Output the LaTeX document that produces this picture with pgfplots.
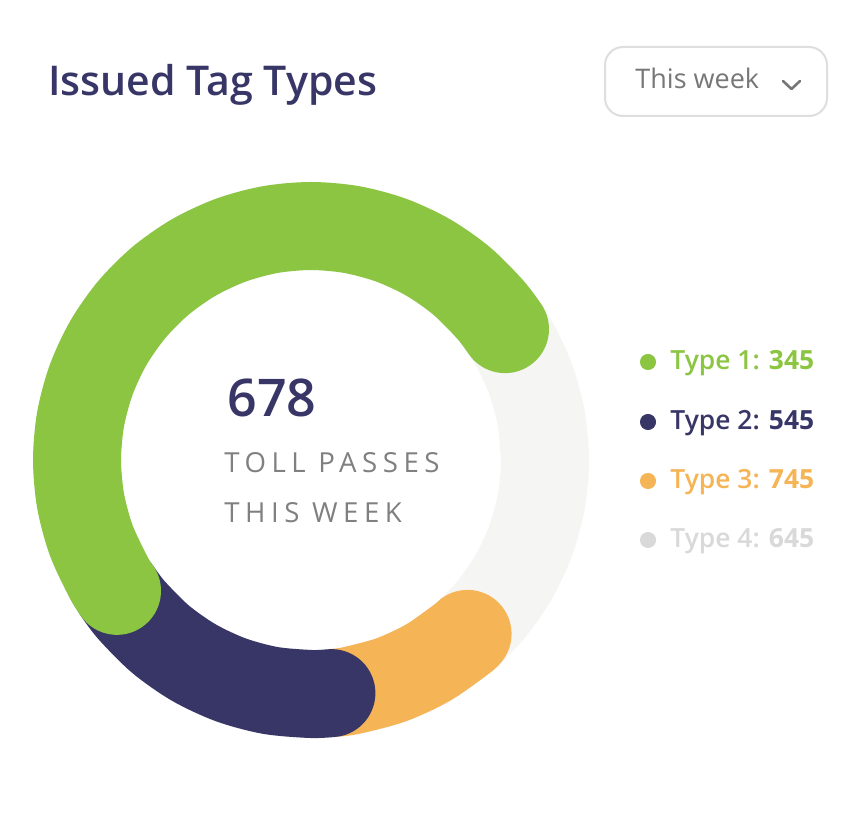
\documentclass[border=0pt]{standalone}
\usepackage{pgfplots}
\pgfplotsset{compat=1.18}
\usepackage{fontspec}
\setmainfont{Open Sans}
\newfontfamily\semib{Open Sans Semibold}
\newfontfamily\boldf{Open Sans Bold}
\newfontfamily\spaced[LetterSpace=20]{Open Sans}
\definecolor{cgreen}{HTML}{8BC541}
\definecolor{cnavy}{HTML}{383667}
\definecolor{corange}{HTML}{F5B455}
\definecolor{cring}{HTML}{F5F6F3}
\definecolor{cgray4}{HTML}{D9D9D9}
\definecolor{cbtn}{HTML}{777777}
\definecolor{cbord}{HTML}{DEDEDE}
\definecolor{ctext}{HTML}{808080}
\begin{document}
\begin{tikzpicture}
\fill[white] (0,0) rectangle (433.5pt,412.5pt);
\begin{axis}[
  scale only axis, width=433.5pt, height=412.5pt,
  xmin=-311, xmax=556, ymin=-365, ymax=460,
  hide axis, clip=false,
]
% background ring
\addplot[data cs=polar, smooth, color=cring, line width=44pt] coordinates {
(0,234) (10,234) (20,234) (30,234) (40,234) (50,234) (60,234) (70,234) (80,234) (90,234)
(100,234) (110,234) (120,234) (130,234) (140,234) (150,234) (160,234) (170,234) (180,234)
(190,234) (200,234) (210,234) (220,234) (230,234) (240,234) (250,234) (260,234) (270,234)
(280,234) (290,234) (300,234) (310,234) (320,234) (330,234) (340,234) (350,234) (360,234) (370,234)};
% Type 3 (orange)
\addplot[data cs=polar, smooth, color=corange, line width=44pt, line cap=round] coordinates {
(276,234) (280,234) (290,234) (300,234) (310,234) (312,234)};
% Type 2 (navy)
\addplot[data cs=polar, smooth, color=cnavy, line width=44pt, line cap=round] coordinates {
(214,234) (220,234) (230,234) (240,234) (250,234) (260,234) (270,234) (275,234)};
% Type 1 (green)
\addplot[data cs=polar, smooth, color=cgreen, line width=44pt, line cap=round] coordinates {
(34,234) (40,234) (50,234) (60,234) (70,234) (80,234) (90,234) (100,234) (110,234)
(120,234) (130,234) (140,234) (150,234) (160,234) (170,234) (180,234) (190,234)
(200,234) (210,234) (214,234)};
% legend dots
\addplot[only marks, mark=*, mark size=3.8pt, color=cgreen] coordinates {(337,98)};
\addplot[only marks, mark=*, mark size=3.8pt, color=cnavy] coordinates {(337,38)};
\addplot[only marks, mark=*, mark size=3.8pt, color=corange] coordinates {(337,-21)};
\addplot[only marks, mark=*, mark size=3.8pt, color=cgray4] coordinates {(337,-80)};
% legend texts
\node[anchor=base west, inner sep=0pt, text=cgreen, font=\fontsize{13.2pt}{15pt}\semib] at (axis cs:359,90) {Type 1: {\boldf 345}};
\node[anchor=base west, inner sep=0pt, text=cnavy, font=\fontsize{13.2pt}{15pt}\semib] at (axis cs:359,30) {Type 2: {\boldf 545}};
\node[anchor=base west, inner sep=0pt, text=corange, font=\fontsize{13.2pt}{15pt}\semib] at (axis cs:359,-29) {Type 3: {\boldf 745}};
\node[anchor=base west, inner sep=0pt, text=cgray4, font=\fontsize{13.2pt}{15pt}\semib] at (axis cs:359,-87) {Type 4: {\boldf 645}};
% title
\node[anchor=base west, inner sep=0pt, text=cnavy, font=\fontsize{20.5pt}{25pt}\semib] at (axis cs:-263,364) {Issued Tag Types};
% button
\draw[cbord, line width=1pt, rounded corners=9pt] (axis cs:294,413) rectangle (axis cs:516,344);
\node[anchor=base west, inner sep=0pt, text=cbtn, font=\fontsize{13.5pt}{16pt}\selectfont] at (axis cs:324,371) {This week};
\draw[cbtn, line width=1.3pt, line cap=round, line join=round] (axis cs:472,379) -- (axis cs:480.5,371) -- (axis cs:489,379);
% centre text
\node[anchor=base west, inner sep=0pt, text=cnavy, font=\fontsize{26pt}{30pt}\semib] at (axis cs:-84,43) {678};
\node[anchor=base west, inner sep=0pt, text=ctext, font=\fontsize{13.8pt}{16pt}\spaced] at (axis cs:-87,-13) {TOLL PASSES};
\node[anchor=base west, inner sep=0pt, text=ctext, font=\fontsize{13.8pt}{16pt}\spaced] at (axis cs:-87,-63) {THIS WEEK};
\end{axis}
\end{tikzpicture}
\end{document}
